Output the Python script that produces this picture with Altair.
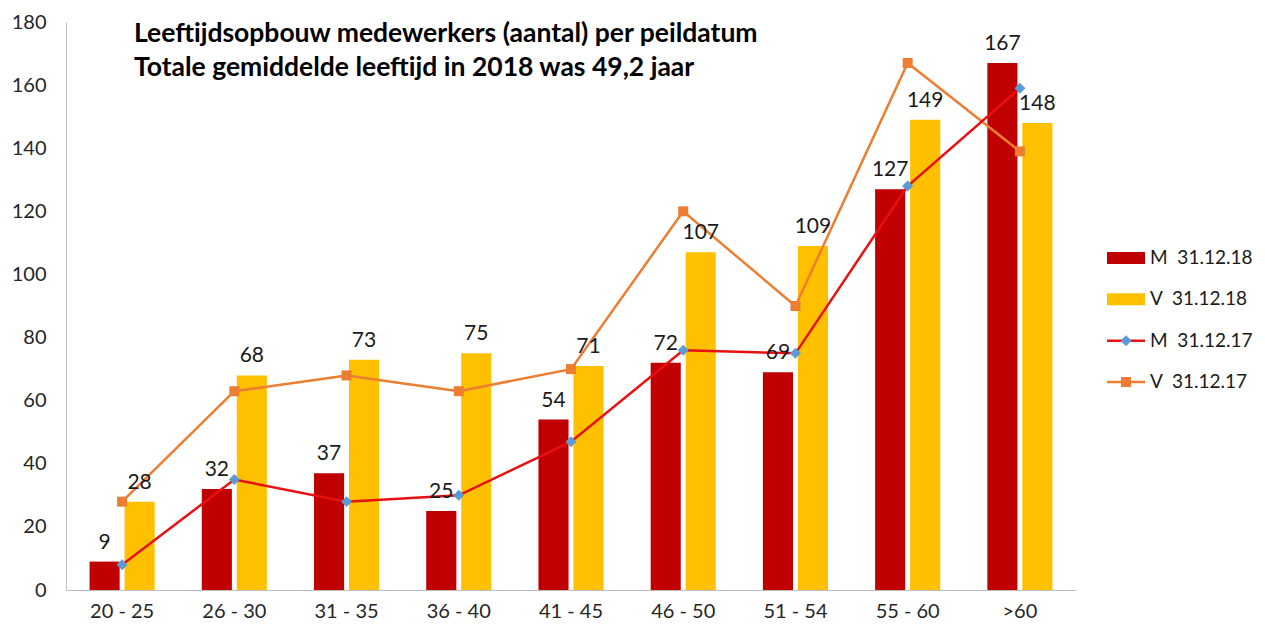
import altair as alt
import pandas as pd

categories = ["20 - 25", "26 - 30", "31 - 35", "36 - 40", "41 - 45", "46 - 50", "51 - 54", "55 - 60", ">60"]
m_2018 = [9, 32, 37, 25, 54, 72, 69, 127, 167]
v_2018 = [28, 68, 73, 75, 71, 107, 109, 149, 148]
m_2017 = [8, 35, 28, 30, 47, 76, 75, 128, 159]
v_2017 = [28, 63, 68, 63, 70, 120, 90, 167, 139]

series_names = ["M\u00a0 31.12.18", "V\u00a0 31.12.18", "M\u00a0 31.12.17", "V\u00a0 31.12.17"]
series_colors = ["#C00000", "#FFC000", "#E81010", "#ED7D31"]
series_kinds = ["bar", "bar", "line", "line"]
title_line1 = "Leeftijdsopbouw medewerkers (aantal) per peildatum"
title_line2 = "Totale gemiddelde leeftijd in 2018 was 49,2 jaar"

FONT = "Lato"

bars = pd.DataFrame(
    [{"cat": c, "series": series_names[0], "value": v} for c, v in zip(categories, m_2018)]
    + [{"cat": c, "series": series_names[1], "value": v} for c, v in zip(categories, v_2018)]
)
lines = pd.DataFrame(
    [{"cat": c, "series": series_names[2], "value": v} for c, v in zip(categories, m_2017)]
    + [{"cat": c, "series": series_names[3], "value": v} for c, v in zip(categories, v_2017)]
)

X = alt.X("cat:N", sort=categories,
          scale=alt.Scale(paddingInner=0.42, paddingOuter=0.21),
          axis=alt.Axis(title=None, labelAngle=0, labelFontSize=20, labelPadding=11,
                        labelFont=FONT, labelColor="#262626", ticks=False,
                        domainColor="#BFBFBF", domainWidth=1))
Y = alt.Y("value:Q", scale=alt.Scale(domain=[0, 180], nice=False),
          axis=alt.Axis(title=None, values=list(range(0, 181, 20)), grid=False, ticks=False,
                        labelFontSize=20, labelFont=FONT, labelColor="#262626", labelPadding=20,
                        domainColor="#BFBFBF", domainWidth=1))
XO = alt.XOffset("series:N", sort=series_names[:2],
                 scale=alt.Scale(paddingInner=0.14, paddingOuter=0))
COLOR = alt.Color("series:N", scale=alt.Scale(domain=series_names, range=series_colors), legend=None)

bar_base = alt.Chart(bars)
bar_layer = bar_base.mark_bar().encode(x=X, xOffset=XO, y=Y, color=COLOR)
bar_labels = bar_base.mark_text(baseline="bottom", dy=-9, fontSize=21, font=FONT,
                                color="#1a1a1a").encode(
    x=X, xOffset=XO, y=Y, text="value:Q")

m17 = alt.Chart(lines).transform_filter(alt.datum.series == series_names[2])
v17 = alt.Chart(lines).transform_filter(alt.datum.series == series_names[3])
m17_line = m17.mark_line(color="#E81010", strokeWidth=2.5).encode(x=X, y=Y)
m17_pts = m17.mark_point(shape="diamond", filled=True, size=120, color="#5B9BD5",
                         opacity=1).encode(x=X, y=Y)
v17_line = v17.mark_line(color="#ED7D31", strokeWidth=2.5).encode(x=X, y=Y)
v17_pts = v17.mark_point(shape="square", filled=True, size=100, color="#ED7D31",
                         opacity=1).encode(x=X, y=Y)

title_df = pd.DataFrame({"t": [title_line1]})
title_df2 = pd.DataFrame({"t": [title_line2]})
title_a = alt.Chart(title_df).mark_text(
    align="left", baseline="alphabetic", font=FONT, fontWeight="bold", fontSize=26.5,
    color="#000000").encode(x=alt.value(68), y=alt.value(20), text="t:N")
title_b = alt.Chart(title_df2).mark_text(
    align="left", baseline="alphabetic", font=FONT, fontWeight="bold", fontSize=26.5,
    color="#000000").encode(x=alt.value(68), y=alt.value(54), text="t:N")

main = alt.layer(bar_layer, v17_line, m17_line, v17_pts, m17_pts, bar_labels,
                 title_a, title_b).properties(width=1010, height=568)

# legend panel
leg = pd.DataFrame({"name": series_names, "kind": series_kinds})
LY = alt.Y("name:N", sort=series_names,
           scale=alt.Scale(type="point", domain=series_names, range=[236, 360], padding=0),
           axis=None)
LC = alt.Color("name:N", scale=alt.Scale(domain=series_names, range=series_colors), legend=None)
lbase = alt.Chart(leg)
leg_bar = lbase.transform_filter(alt.datum.kind == "bar").mark_rule(
    strokeWidth=12, strokeCap="butt").encode(x=alt.value(0), x2=alt.value(38), y=LY, color=LC)
leg_line = lbase.transform_filter(alt.datum.kind == "line").mark_rule(
    strokeWidth=2.5).encode(x=alt.value(0), x2=alt.value(38), y=LY, color=LC)
leg_m = lbase.transform_filter(alt.datum.name == series_names[2]).mark_point(
    shape="diamond", filled=True, size=120, color="#5B9BD5", opacity=1).encode(
    x=alt.value(19), y=LY)
leg_v = lbase.transform_filter(alt.datum.name == series_names[3]).mark_point(
    shape="square", filled=True, size=100, color="#ED7D31", opacity=1).encode(
    x=alt.value(19), y=LY)
leg_text = lbase.mark_text(align="left", baseline="middle", fontSize=19, font=FONT,
                           color="#1a1a1a").encode(x=alt.value(43), y=LY, text="name:N")
legend = alt.layer(leg_bar, leg_line, leg_m, leg_v, leg_text).properties(width=100, height=568)

chart = alt.hconcat(main, legend, spacing=25,
                    padding={"left": 3, "top": 4, "right": 0, "bottom": 0}).configure_view(
    stroke="transparent", strokeWidth=0)

chart.save("out.html", embed_options={"renderer": "svg", "actions": False})
